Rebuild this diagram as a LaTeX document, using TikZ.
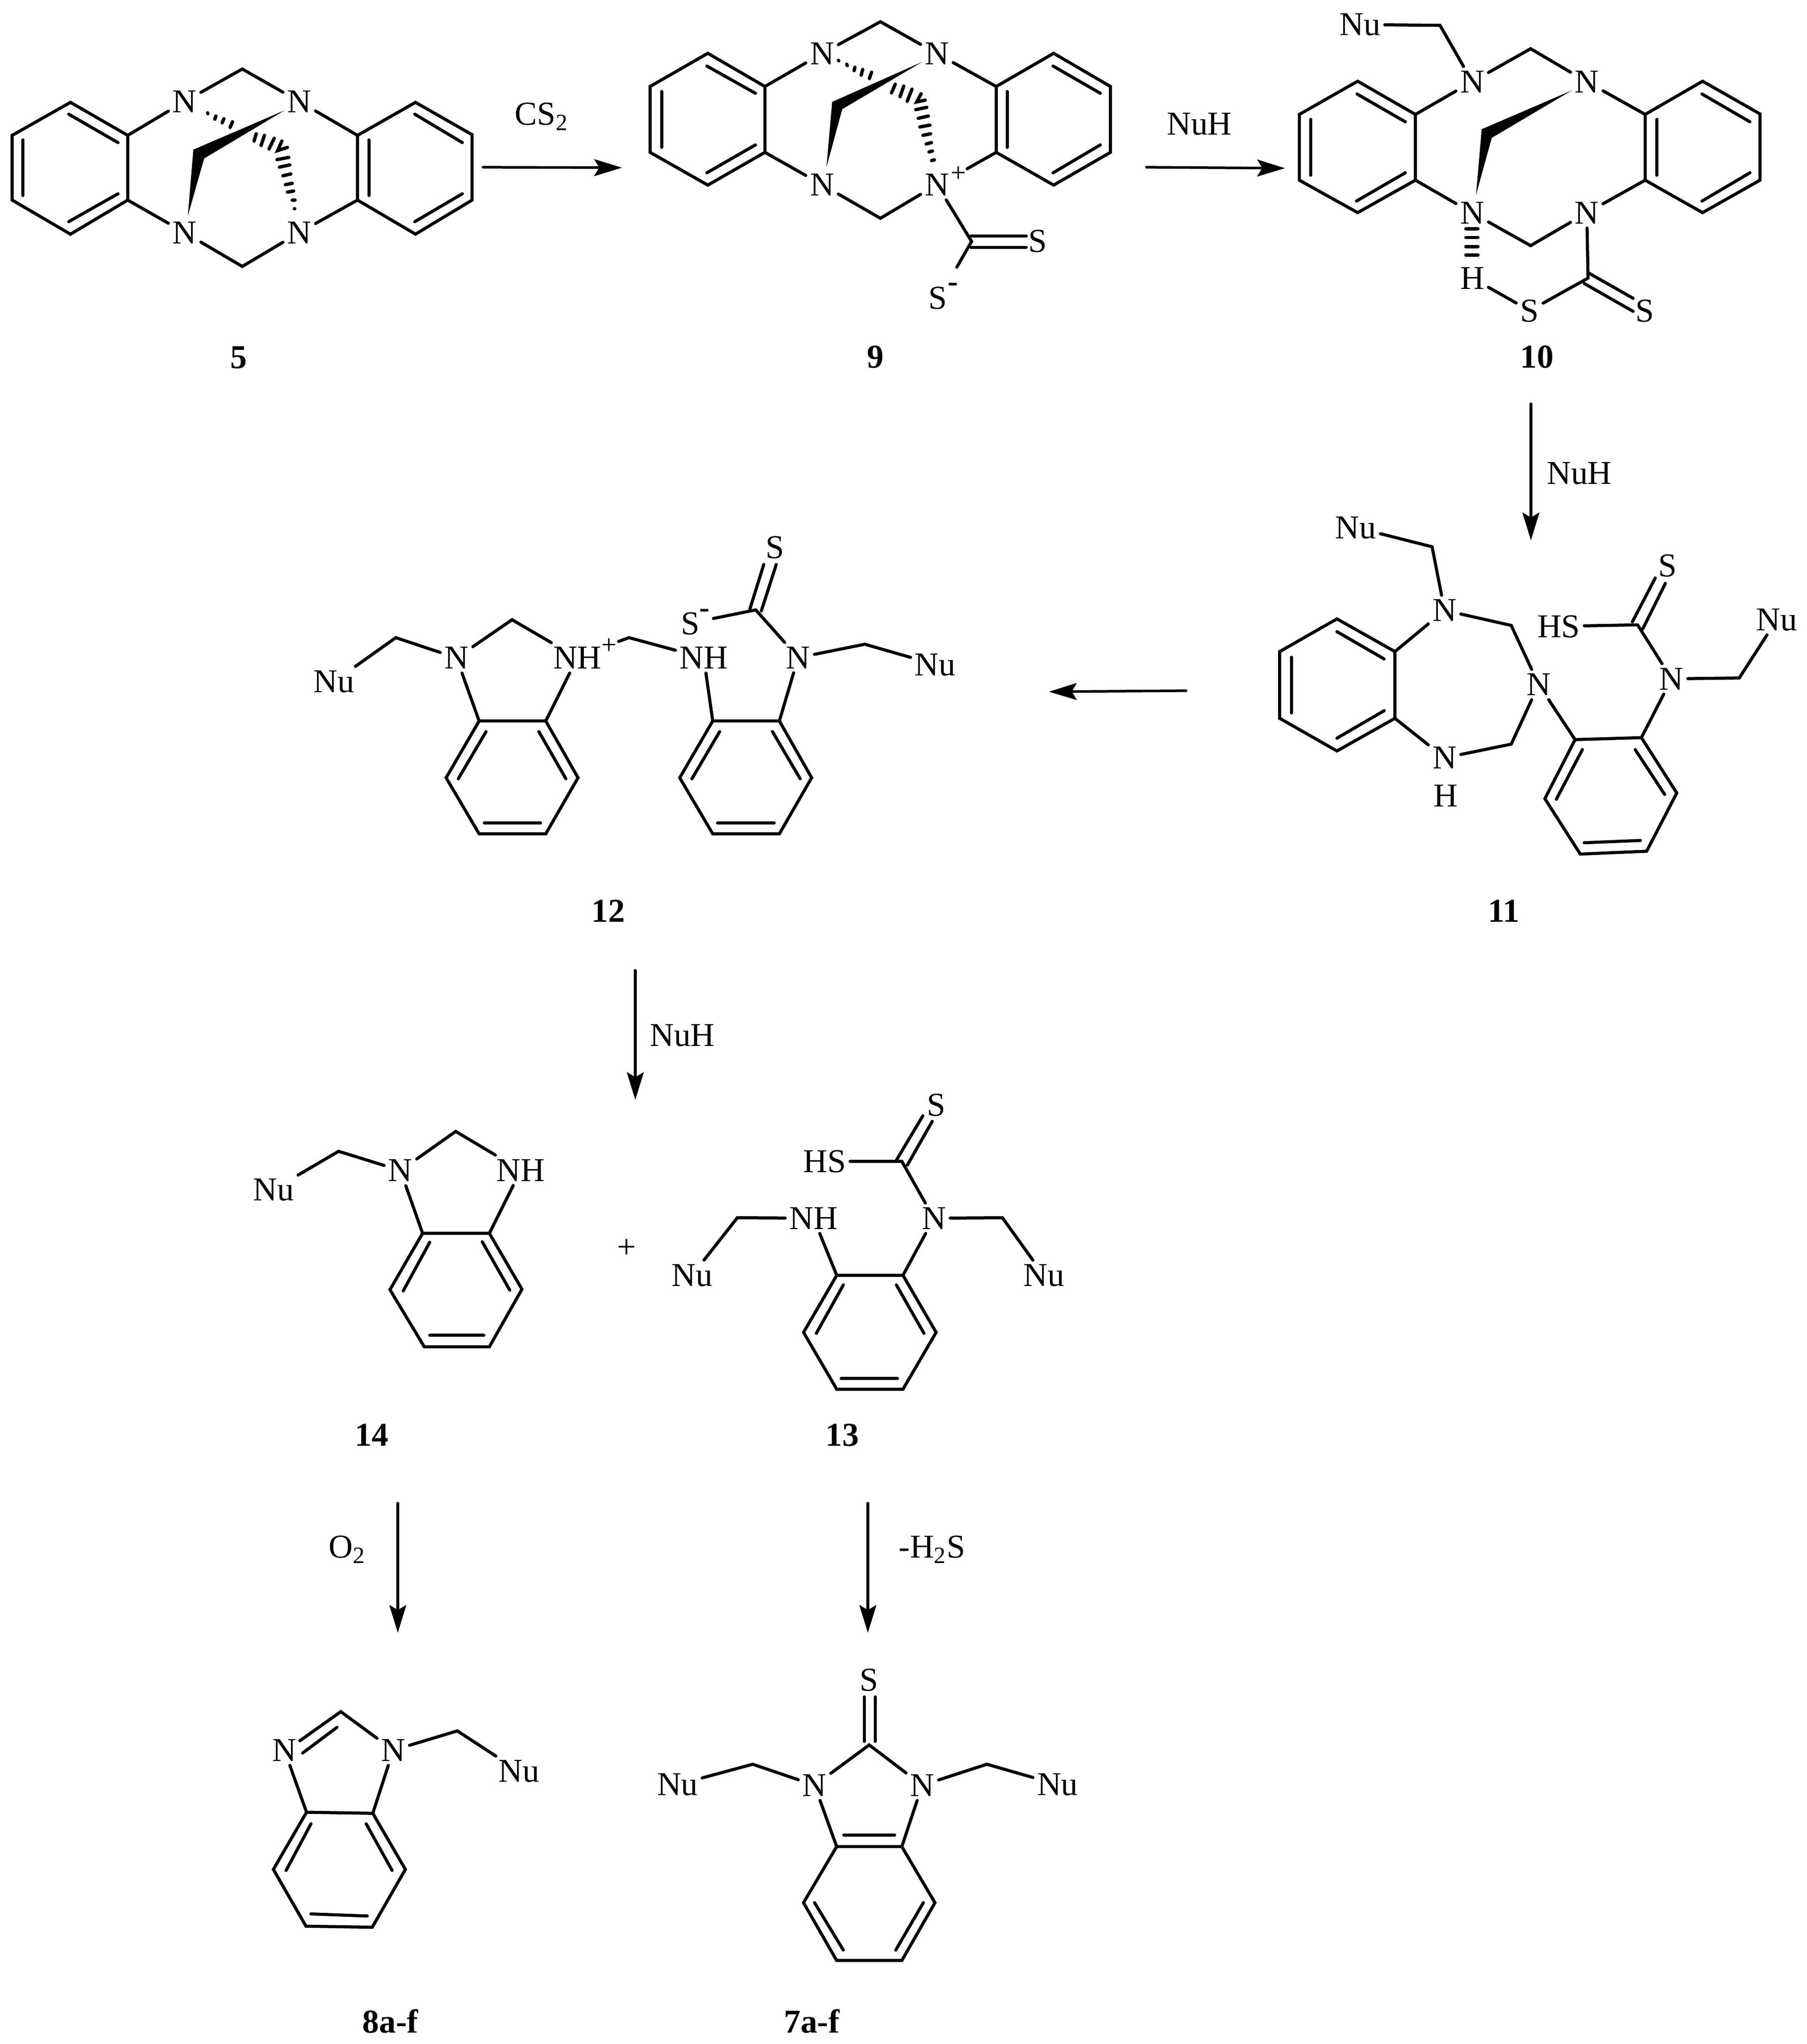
\documentclass[tikz,border=0pt]{standalone}
\usepackage{fontspec}
\setmainfont{Liberation Serif}
\usetikzlibrary{arrows.meta}
\tikzset{
  view/.style n args={4}{shift={(#1*0.2pt,-#2*0.2pt)},x=#3pt,y=-#4pt},
  bond/.style={line width=1.25pt,line cap=round},
  hashb/.style={line width=1.35pt,line cap=round},
  wedgeb/.style={fill=black,draw=none},
  atom/.style={inner sep=1.5pt,font=\fontsize{13.5}{16}\selectfont,text height=8.9pt,text depth=0pt},
  cpd/.style={inner sep=0pt,font=\fontsize{13.5}{16}\selectfont\bfseries,text height=8.9pt,text depth=0pt},
  chg/.style={inner sep=0pt,font=\fontsize{11}{12}\selectfont,text height=0pt,text depth=0pt,yshift=-2.7pt},
  neg/.style={inner sep=0pt,font=\fontsize{12.5}{13}\selectfont\bfseries,text height=0pt,text depth=0pt,yshift=-2.2pt},
  rxn/.style={line width=1.05pt,line cap=round,-{Stealth[length=11.2pt,width=6.8pt,inset=2pt]}},
}
\newcommand{\mring}[7]{%
  \path #2 coordinate (#1a) #3 coordinate (#1b) #4 coordinate (#1c)
        #5 coordinate (#1d) #6 coordinate (#1e) #7 coordinate (#1f);
  \draw[bond] (#1a)--(#1b)--(#1c)--(#1d)--(#1e)--(#1f)--cycle;}
\begin{document}
\begin{tikzpicture}
\useasboundingbox (0,0) rectangle (730.2pt,-826.2pt);
\fill[white] (0,0) rectangle (730.2pt,-826.2pt);

% ---------- 5
\begin{scope}[view={0}{60}{0.14031}{0.09184}]
\mring{p}{(203,320)}{(368,465)}{(368,750)}{(203,900)}{(35,750)}{(35,465)}
\mring{q}{(1030,465)}{(1197,320)}{(1360,462)}{(1360,750)}{(1197,900)}{(1030,750)}
\draw[bond] (198,372)--(340,497) (66,485)--(66,730) (198,845)--(340,722);
\draw[bond] (1195,372)--(1332,497) (1063,485)--(1063,730) (1195,845)--(1332,722);
\node[atom] (v5a) at (532,316) {N};
\node[atom] (v5b) at (862,316) {N};
\node[atom] (v5c) at (532,893) {N};
\node[atom] (v5d) at (862,893) {N};
\coordinate (v5t) at (698,173);
\coordinate (v5u) at (698,1042);
\draw[bond] (pb)--(v5a) (v5a)--(v5t)--(v5b) (v5b)--(qa);
\draw[bond] (pc)--(v5c) (v5c)--(v5u)--(v5d) (v5d)--(qf);
\coordinate (w5a) at (820,355); \coordinate (w5b) at (557,528);
\coordinate (w5c) at (541,820); \coordinate (w5d) at (588,567);
\fill[wedgeb] (w5a)--(w5b)--(w5c)--(w5d)--cycle;
\draw[hashb] (598,366)--(599,370) (622,380)--(619,394) (645,392)--(640,410) (670,405)--(663,430)
  (738,458)--(732,490) (762,465)--(752,510) (790,478)--(775,525) (812,490)--(800,532)--(828,518)
  (798,572)--(832,562) (805,605)--(835,595) (815,643)--(838,635) (822,682)--(842,676)
  (828,715)--(846,710) (842,750)--(850,750) (848,788)--(849,788);
\node[cpd] (l5) at (688,1443) {5};
\end{scope}

% ---------- 9
\begin{scope}[view={1280}{60}{0.12755}{0.09184}]
\mring{p}{(236,104)}{(417,250)}{(417,540)}{(236,684)}{(53,540)}{(53,250)}
\mring{q}{(1150,250)}{(1332,104)}{(1512,250)}{(1512,540)}{(1332,684)}{(1150,540)}
\draw[bond] (233,160)--(387,280) (90,272)--(90,518) (233,630)--(387,507);
\draw[bond] (1330,160)--(1480,280) (1185,272)--(1185,518) (1330,630)--(1480,507);
\node[atom] (v9a) at (598,105) {N};
\node[atom] (v9b) at (962,105) {N};
\node[atom] (v9c) at (598,682) {N};
\node[atom] (v9d) at (962,682) {N};
\node[chg] (v9p) at (1030,640) {+};
\coordinate (v9t) at (783,-35);
\coordinate (v9u) at (783,830);
\coordinate (v9e) at (1058,612);
\draw[bond] (pb)--(v9a) (v9a)--(v9t)--(v9b) (v9b)--(qa);
\draw[bond] (pc)--(v9c) (v9c)--(v9u)--(v9d) (v9e)--(qf);
\coordinate (w9a) at (915,142); \coordinate (w9b) at (630,318);
\coordinate (w9c) at (612,605); \coordinate (w9d) at (662,350);
\fill[wedgeb] (w9a)--(w9b)--(w9c)--(w9d)--cycle;
\draw[hashb] (650,135)--(651,137) (676,152)--(678,158) (702,165)--(700,180) (727,175)--(722,200) (755,187)--(748,215)
  (830,240)--(818,278) (857,248)--(845,295) (883,262)--(868,315) (912,282)--(898,318)--(925,310)
  (895,352)--(930,342) (903,390)--(935,380) (908,428)--(940,420) (918,465)--(942,458)
  (928,503)--(945,497) (937,538)--(948,534) (945,576)--(954,573);
\coordinate (c9) at (1072,932);
\node[atom] (s9a) at (1282,930) {S};
\node[atom] (s9b) at (965,1180) {S};
\node[neg] (s9m) at (1012,1130) {-};
\coordinate (s9e) at (1025,1045);
\draw[bond] (v9d)--(c9)--(s9e);
\draw[bond] (1070,908)--(1245,908) (1070,958)--(1245,958);
\node[cpd] (l9) at (768,1440) {9};
\end{scope}

% ---------- 10
\begin{scope}[view={2580}{0}{0.12755}{0.09949}]
\mring{p}{(257,330)}{(440,465)}{(440,732)}{(257,864)}{(72,732)}{(72,465)}
\mring{q}{(1168,465)}{(1350,330)}{(1532,463)}{(1532,732)}{(1350,864)}{(1168,732)}
\draw[bond] (255,382)--(408,495) (108,485)--(108,712) (253,817)--(408,702);
\draw[bond] (1348,382)--(1500,495) (1205,485)--(1205,712) (1348,817)--(1500,702);
\node[atom] (nu10) at (265,100) {Nu};
\coordinate (m10) at (518,103);
\node[atom] (v10a) at (620,332) {N};
\node[atom] (v10b) at (983,332) {N};
\node[atom] (v10c) at (620,865) {N};
\node[atom] (v10d) at (983,865) {N};
\coordinate (v10t) at (805,198);
\coordinate (v10u) at (805,998);
\draw[bond] (nu10)--(m10)--(v10a);
\draw[bond] (pb)--(v10a) (v10a)--(v10t)--(v10b) (v10b)--(qa);
\draw[bond] (pc)--(v10c) (v10c)--(v10u)--(v10d) (v10d)--(qf);
\coordinate (w10a) at (935,368); \coordinate (w10b) at (650,525);
\coordinate (w10c) at (632,792); \coordinate (w10d) at (682,560);
\fill[wedgeb] (w10a)--(w10b)--(w10c)--(w10d)--cycle;
\draw[hashb] (600,930)--(638,930) (600,965)--(638,965) (600,1002)--(638,1002) (600,1037)--(638,1037);
\node[atom] (h10) at (620,1130) {H};
\node[atom] (s10a) at (802,1262) {S};
\node[atom] (s10b) at (1167,1262) {S};
\coordinate (c10) at (987,1130);
\draw[bond] (h10)--(s10a)--(c10)--(v10d);
\draw[bond] (990,1110)--(1130,1212) (975,1152)--(1130,1265);
\node[cpd] (l10) at (825,1450) {10};
\end{scope}

% ---------- 11
\begin{scope}[view={2540}{1000}{0.14031}{0.11480}]
\mring{p}{(231,437)}{(398,552)}{(398,787)}{(231,902)}{(66,787)}{(66,552)}
\mring{q}{(917,862)}{(1108,855)}{(1210,1050)}{(1123,1255)}{(932,1265)}{(830,1070)}
\draw[bond] (231,482)--(367,578) (100,572)--(100,768) (231,857)--(367,760);
\draw[bond] (1090,897)--(1175,1055) (1105,1217)--(943,1225) (863,1072)--(938,897);
\node[atom] (nu11a) at (285,115) {Nu};
\coordinate (m11a) at (505,183);
\node[atom] (v11a) at (541,407) {N};
\coordinate (m11b) at (733,460);
\node[atom] (v11b) at (812,668) {N};
\coordinate (m11c) at (733,878);
\node[atom] (v11c) at (541,926) {N};
\node[atom] (h11) at (545,1060) {H};
\node[atom] (v11d) at (1195,648) {N};
\coordinate (c11) at (1097,458);
\node[atom] (hs11) at (870,463) {HS};
\node[atom] (s11) at (1183,250) {S};
\coordinate (m11d) at (1390,645);
\node[atom] (nu11b) at (1498,440) {Nu};
\draw[bond] (nu11a)--(m11a)--(v11a) (pb)--(v11a) (v11a)--(m11b)--(v11b)--(m11c)--(v11c)--(pc);
\draw[bond] (v11b)--(qa) (qb)--(v11d)--(c11)--(hs11) (v11d)--(m11d)--(nu11b);
\draw[bond] (1082,447)--(1148,293) (1112,472)--(1177,312);
\node[cpd] (l11) at (712,1465) {11};
\end{scope}

% ---------- 12
\begin{scope}[view={600}{1050}{0.14031}{0.10204}]
\mring{p}{(525,798)}{(717,798)}{(810,1023)}{(717,1245)}{(525,1245)}{(430,1023)}
\mring{q}{(1198,798)}{(1390,798)}{(1483,1023)}{(1390,1245)}{(1198,1245)}{(1103,1023)}
\draw[bond] (545,840)--(465,1027) (697,840)--(775,1027) (540,1202)--(702,1202);
\draw[bond] (1218,840)--(1138,1027) (1370,840)--(1450,1027) (1212,1202)--(1375,1202);
\node[atom] (nu12a) at (107,642) {Nu};
\coordinate (m12a) at (285,468);
\node[atom] (v12a) at (460,548) {N};
\coordinate (m12b) at (620,397);
\node[atom] (v12b) at (808,548) {NH};
\node[chg] (p12) at (900,505) {+};
\coordinate (e12) at (927,483);
\coordinate (m12c) at (957,468);
\node[atom] (v12c) at (1172,548) {NH};
\node[atom] (s12a) at (1133,412) {S};
\node[neg] (m12m) at (1175,367) {-};
\coordinate (e12b) at (1200,392);
\coordinate (c12) at (1322,358);
\node[atom] (s12b) at (1378,110) {S};
\node[atom] (v12d) at (1444,547) {N};
\coordinate (m12d) at (1636,494);
\node[atom] (nu12b) at (1839,574) {Nu};
\draw[bond] (nu12a)--(m12a)--(v12a)--(m12b)--(v12b)--(pb) (v12a)--(pa);
\draw[bond] (e12)--(m12c)--(v12c)--(qa) (e12b)--(c12)--(v12d)--(qb);
\draw[bond] (v12d)--(m12d)--(nu12b);
\draw[bond] (1305,355)--(1345,178) (1338,362)--(1381,178);
\node[cpd] (l12) at (897,1550) {12};
\end{scope}

% ---------- 14 and 13
\begin{scope}[view={450}{2180}{0.22321}{0.09694}]
\mring{p}{(362,645)}{(483,645)}{(542,878)}{(483,1118)}{(365,1118)}{(303,880)}
\draw[bond] (375,682)--(327,885) (470,680)--(520,882) (375,1070)--(473,1070);
\node[atom] (nu14) at (92,462) {Nu};
\coordinate (m14a) at (210,303);
\node[atom] (v14a) at (322,383) {N};
\coordinate (m14b) at (422,220);
\node[atom] (v14b) at (540,382) {NH};
\draw[bond] (nu14)--(m14a)--(v14a)--(m14b)--(v14b)--(pb) (v14a)--(pa);
\node[cpd] (l14) at (270,1485) {14};
\node[atom] (plus) at (732,703) {+};
\mring{q}{(1112,820)}{(1232,820)}{(1292,1058)}{(1232,1295)}{(1112,1295)}{(1052,1058)}
\draw[bond] (1124,860)--(1075,1062) (1220,860)--(1270,1062) (1120,1250)--(1222,1250);
\node[atom] (s13) at (1292,110) {S};
\coordinate (c13) at (1230,345);
\node[atom] (hs13) at (1090,345) {HS};
\node[atom] (v13a) at (1288,582) {N};
\node[atom] (v13b) at (1070,582) {NH};
\coordinate (m13a) at (1412,580);
\coordinate (m13b) at (932,580);
\node[atom] (nu13a) at (1487,820) {Nu};
\node[atom] (nu13b) at (850,820) {Nu};
\draw[bond] (hs13)--(c13)--(v13a)--(m13a)--(nu13a) (v13a)--(qb);
\draw[bond] (nu13b)--(m13b)--(v13b)--(qa);
\draw[bond] (1220,340)--(1268,155) (1240,360)--(1285,178);
\node[cpd] (l13) at (1122,1485) {13};
\end{scope}

% ---------- 8a-f and 7a-f
\begin{scope}[view={480}{3020}{0.22321}{0.14171}]
\mring{p}{(125,907)}{(245,910)}{(304,1070)}{(244,1235)}{(124,1232)}{(65,1070)}
\draw[bond] (133,940)--(88,1073) (233,940)--(280,1073) (133,1197)--(235,1203);
\node[atom] (v8a) at (85,730) {N};
\node[atom] (v8b) at (282,730) {N};
\coordinate (m8a) at (187,620);
\coordinate (m8b) at (398,675);
\node[atom] (nu8) at (510,790) {Nu};
\draw[bond] (v8b)--(m8a)--(113,703) (180,665)--(118,738);
\draw[bond] (v8a)--(pa) (v8b)--(pb) (v8b)--(m8b)--(nu8);
\node[cpd] (l8) at (277,1505) {8a-f};
\mring{q}{(1085,1005)}{(1203,1005)}{(1263,1165)}{(1203,1330)}{(1085,1330)}{(1025,1165)}
\draw[bond] (1098,972)--(1190,972) (1045,1165)--(1097,1300) (1242,1165)--(1192,1300);
\node[atom] (s7) at (1144,530) {S};
\coordinate (c7) at (1144,715);
\draw[bond] (1135,578)--(1135,705) (1155,578)--(1155,705);
\node[atom] (v7a) at (1045,830) {N};
\node[atom] (v7b) at (1240,830) {N};
\coordinate (m7a) at (933,770);
\coordinate (m7b) at (1357,770);
\node[atom] (nu7a) at (797,828) {Nu};
\node[atom] (nu7b) at (1485,828) {Nu};
\draw[bond] (v7a)--(c7)--(v7b) (v7a)--(m7a)--(nu7a) (v7b)--(m7b)--(nu7b);
\draw[bond] (v7a)--(qa) (v7b)--(qb);
\node[cpd] (l7) at (1040,1505) {7a-f};
\end{scope}

% ---------- reaction arrows and reagents (reference pixels)
\begin{scope}[x=0.2pt,y=-0.2pt]
\coordinate (a1s) at (976,338);  \coordinate (a1e) at (1257,339);
\coordinate (a2s) at (2317,338); \coordinate (a2e) at (2597,340);
\coordinate (a3s) at (3094,816); \coordinate (a3e) at (3094,1092);
\coordinate (a4s) at (2397,1396);\coordinate (a4e) at (2120,1398);
\coordinate (a5s) at (1284,1961);\coordinate (a5e) at (1284,2223);
\coordinate (a6s) at (804,3038); \coordinate (a6e) at (804,3300);
\coordinate (a7s) at (1754,3038);\coordinate (a7e) at (1754,3300);
\foreach \n in {1,...,7} \draw[rxn] (a\n s)--(a\n e);
\node[atom] (r1) at (1095,230) {CS\textsubscript{2}};
\node[atom] (r2) at (2424,250) {NuH};
\node[atom] (r3) at (3192,956) {NuH};
\node[atom] (r5) at (1379,2092) {NuH};
\node[atom] (r6) at (702,3126) {O\textsubscript{2}};
\node[atom] (r7) at (1884,3126) {-H\textsubscript{2}S};
\end{scope}
\end{tikzpicture}
\end{document}
